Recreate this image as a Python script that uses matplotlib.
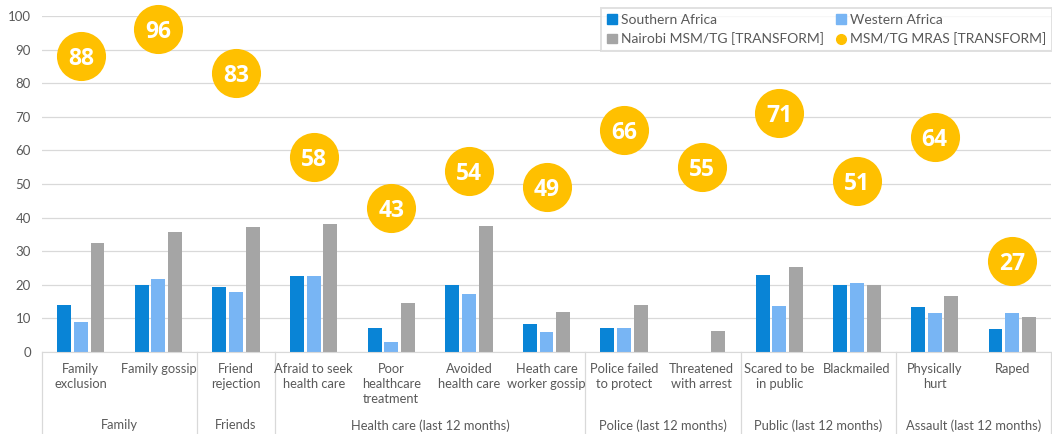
import matplotlib.pyplot as plt
import matplotlib.transforms as mtransforms
from matplotlib.lines import Line2D
import numpy as np

plt.rcParams['font.family'] = ['Lato', 'DejaVu Sans']

categories = ['Family\nexclusion', 'Family gossip', 'Friend\nrejection',
              'Afraid to seek\nhealth care', 'Poor\nhealthcare\ntreatment',
              'Avoided\nhealth care', 'Heath care\nworker gossip',
              'Police failed\nto protect', 'Threatened\nwith arrest',
              'Scared to be\nin public', 'Blackmailed', 'Physically\nhurt', 'Raped']
groups = ['Family', 'Friends', 'Health care (last 12 months)',
          'Police (last 12 months)', 'Public (last 12 months)', 'Assault (last 12 months)']
group_sizes = [2, 1, 4, 2, 2, 2]

southern = [14, 20, 19.2, 22.5, 7, 20, 8.3, 7.1, 0, 23, 19.9, 13.3, 6.7]
western = [9, 21.6, 18, 22.6, 3, 17.2, 5.9, 7.2, 0, 13.6, 20.4, 11.6, 11.6]
nairobi = [32.4, 35.8, 37.2, 38, 14.6, 37.4, 11.8, 13.9, 6.2, 25.3, 19.9, 16.6, 10.4]
mras = [88, 96, 83, 58, 43, 54, 49, 66, 55, 71, 51, 64, 27]

c_sa = '#0984D6'
c_wa = '#78B5F4'
c_nb = '#A5A5A5'
c_mr = '#FFC000'

fig = plt.figure(figsize=(10.52, 4.34), dpi=100)
ax = fig.add_axes([42/1052, 82/434, 1009/1052, 336/434])

x = np.arange(len(categories)) + 0.5
w = 0.18
step = 0.215
ax.bar(x - step, southern, w, color=c_sa, zorder=2)
ax.bar(x, western, w, color=c_wa, zorder=2)
ax.bar(x + step, nairobi, w, color=c_nb, zorder=2)
ax.scatter(x, mras, s=1250, color=c_mr, zorder=3, clip_on=False, linewidths=0)
for xi, v in zip(x, mras):
    ax.text(xi, v, str(v), color='white', fontsize=16.5, fontweight='bold',
            family='Open Sans', ha='center', va='center_baseline', zorder=4)

ax.set_xlim(0, len(categories))
ax.set_ylim(0, 100)
ax.set_yticks(range(0, 101, 10))
ax.tick_params(axis='y', length=0, labelsize=9.5, labelcolor='#595959', pad=8)
ax.set_xticks([])
ax.grid(axis='y', color='#D9D9D9', linewidth=0.9, zorder=0)
for s in ['left', 'right', 'top']:
    ax.spines[s].set_visible(False)
ax.spines['bottom'].set_color('#D9D9D9')

# category and group labels below the axis
trans = mtransforms.blended_transform_factory(ax.transData, ax.transAxes)
for xi, lab in zip(x, categories):
    ax.text(xi, -0.033, lab, transform=trans, ha='center', va='top',
            fontsize=9.3, color='#595959', linespacing=1.3)
start = 0
bounds = [0]
for g, n in zip(groups, group_sizes):
    ax.text(start + n / 2, -0.2, g, transform=trans, ha='center', va='top',
            fontsize=9.3, color='#595959')
    start += n
    bounds.append(start)
for b in bounds:
    ax.plot([b, b], [0, -0.25], transform=trans, color='#D9D9D9',
            linewidth=0.9, clip_on=False)

hs = [plt.Rectangle((0, 0), 1, 1, color=c_sa), plt.Rectangle((0, 0), 1, 1, color=c_nb),
      plt.Rectangle((0, 0), 1, 1, color=c_wa),
      Line2D([], [], marker='o', color=c_mr, linestyle='none', markersize=7)]
ls = ['Southern Africa', 'Nairobi MSM/TG [TRANSFORM]', 'Western Africa', 'MSM/TG MRAS [TRANSFORM]']
leg = ax.legend(hs, ls, ncol=2, loc='upper right', bbox_to_anchor=(1.0, 426/434),
                bbox_transform=fig.transFigure, fontsize=10, frameon=True,
                fancybox=False, edgecolor='#D9D9D9', handlelength=0.7,
                handleheight=0.7, handletextpad=0.3, columnspacing=0.9,
                borderpad=0.4, labelspacing=0.5, borderaxespad=0)
leg.get_frame().set_linewidth(1.4)
for t in leg.get_texts():
    t.set_color('#595959')

fig.savefig('out.png', dpi=100)
